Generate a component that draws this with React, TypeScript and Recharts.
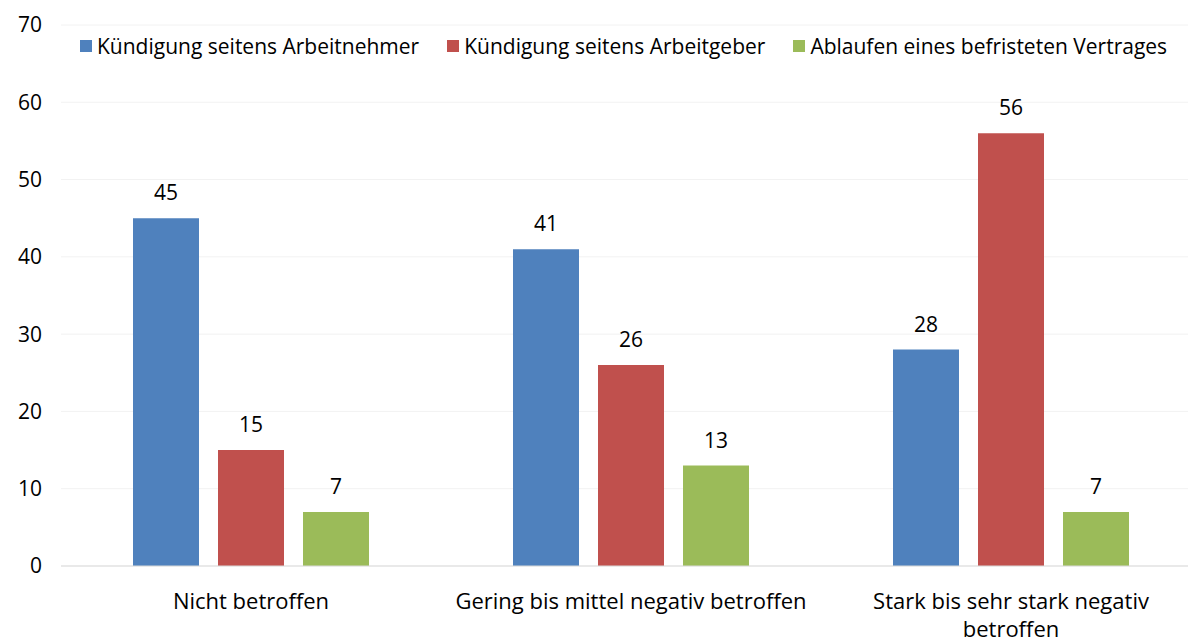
import React from "react";
import { BarChart, Bar, XAxis, YAxis, CartesianGrid, Legend, LabelList } from "recharts";

const categories = ["Nicht betroffen", "Gering bis mittel negativ betroffen", "Stark bis sehr stark negativ\nbetroffen"];
const arbeitnehmer = [45, 41, 28];
const arbeitgeber = [15, 26, 56];
const befristet = [7, 13, 7];
const yTicks = [0, 10, 20, 30, 40, 50, 60, 70];

const series = [
  { key: "an", name: "Kündigung seitens Arbeitnehmer", color: "#4F81BD", values: arbeitnehmer },
  { key: "ag", name: "Kündigung seitens Arbeitgeber", color: "#C0504D", values: arbeitgeber },
  { key: "bf", name: "Ablaufen eines befristeten Vertrages", color: "#9BBB59", values: befristet },
];

const data = categories.map((c, i) => {
  const row: Record<string, string | number> = { cat: c };
  series.forEach((s) => (row[s.key] = s.values[i]));
  return row;
});

const FONT = "'Open Sans', sans-serif";

function CatTick({ x, y, payload }: any) {
  const lines = String(payload.value).split("\n");
  return (
    <text x={x} y={y} textAnchor="middle" fill="#000" fontSize={22} fontFamily={FONT}>
      {lines.map((l, i) => (
        <tspan key={i} x={x} dy={i === 0 ? 35 : 28}>
          {l}
        </tspan>
      ))}
    </text>
  );
}

function LegendContent() {
  return (
    <div style={{ display: "flex", fontFamily: FONT, fontSize: 21, color: "#000", whiteSpace: "nowrap" }}>
      {series.map((s) => (
        <div key={s.key} style={{ display: "flex", alignItems: "center", marginRight: 28 }}>
          <span style={{ width: 12, height: 12, background: s.color, marginRight: 5, display: "inline-block" }} />
          <span>{s.name}</span>
        </div>
      ))}
    </div>
  );
}

export default function App() {
  return (
    <div style={{ position: "absolute", left: 0, top: 0, width: 1188, height: 644, overflow: "hidden", background: "#fff" }}>
      <BarChart
        width={1188}
        height={644}
        data={data}
        margin={{ top: 25, right: -13, bottom: 0, left: 0 }}
        barGap={19}
        barSize={66}
      >
        <CartesianGrid vertical={false} stroke="#f2f2f2" />
        <XAxis
          dataKey="cat"
          tick={<CatTick />}
          tickLine={false}
          axisLine={{ stroke: "#d9d9d9" }}
          height={78}
          interval={0}
        />
        <YAxis
          domain={[0, 70]}
          ticks={yTicks}
          width={61}
          tickLine={false}
          axisLine={false}
          tickSize={0}
          tickMargin={19}
          tick={{ fontSize: 21, fill: "#000", fontFamily: FONT }}
        />
        <Legend verticalAlign="middle" wrapperStyle={{ top: 32, left: 80, width: 1108 }} content={<LegendContent />} />
        {series.map((s) => (
          <Bar key={s.key} dataKey={s.key} name={s.name} fill={s.color} isAnimationActive={false}>
            <LabelList dataKey={s.key} position="top" offset={18} fill="#000" fontSize={21} fontFamily={FONT} />
          </Bar>
        ))}
      </BarChart>
    </div>
  );
}
